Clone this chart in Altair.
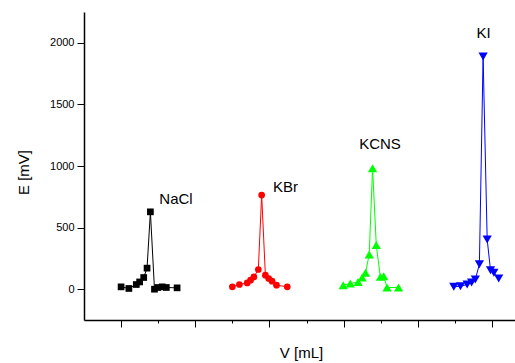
import altair as alt
import pandas as pd

# ---- data ----
nacl_x = [1.00, 1.21, 1.41, 1.50, 1.61, 1.70, 1.79, 1.90, 1.99, 2.11, 2.22, 2.51]
nacl_y = [19, 6, 38, 59, 95, 171, 628, 0, 14, 19, 14, 11]

kbr_x = [4.00, 4.19, 4.40, 4.49, 4.58, 4.70, 4.79, 4.89, 4.98, 5.07, 5.19, 5.48]
kbr_y = [19, 38, 51, 73, 100, 160, 764, 114, 87, 65, 33, 19]

kcns_x = [6.99, 7.18, 7.39, 7.50, 7.59, 7.69, 7.78, 7.88, 7.99, 8.08, 8.17, 8.48]
kcns_y = [33, 46, 59, 95, 133, 282, 981, 358, 100, 106, 14, 14]

ki_x = [9.97, 10.15, 10.33, 10.45, 10.55, 10.66, 10.76, 10.87, 10.96, 11.05, 11.18]
ki_y = [19, 24, 38, 54, 79, 203, 1889, 404, 154, 133, 87]

series_names = ["NaCl", "KBr", "KCNS", "KI"]
series_colors = ["#000000", "#ff0000", "#00ff00", "#0000ff"]
series_shapes = ["square", "circle", "triangle-up", "triangle-down"]

label_x = [2.48, 5.43, 7.98, 10.77]
label_y = [730, 830, 1178, 2078]

y_ticks = [0, 250, 500, 750, 1000, 1250, 1500, 1750, 2000]
x_ticks = [1, 2, 3, 4, 5, 6, 7, 8, 9, 10, 11]

# ---- build table ----
rows = []
for name, xs, ys in zip(series_names,
                        [nacl_x, kbr_x, kcns_x, ki_x],
                        [nacl_y, kbr_y, kcns_y, ki_y]):
    for i, (xv, yv) in enumerate(zip(xs, ys)):
        rows.append({"series": name, "V": xv, "E": yv, "idx": i})
df = pd.DataFrame(rows)
labels_df = pd.DataFrame({"series": series_names, "V": label_x, "E": label_y})

FONT = "Liberation Sans"

xscale = alt.Scale(domain=[0, 11.62], nice=False, zero=False)
yscale = alt.Scale(domain=[-250, 2250], nice=False, zero=False)
cscale = alt.Scale(domain=series_names, range=series_colors)
sscale = alt.Scale(domain=series_names, range=series_shapes)

x_enc = alt.X("V:Q", scale=xscale, axis=alt.Axis(
    values=x_ticks, labels=False, grid=False,
    domainColor="black", domainWidth=1.5,
    tickColor="black", tickWidth=1,
    tickSize={"condition": {"test": "datum.value % 2 === 1", "value": 7}, "value": 3},
    title="V [mL]", titleFont=FONT, titleFontSize=15, titleFontWeight="normal",
    titleColor="black", titleX=217, titleY=32, titleBaseline="middle",
    titleAlign="center", titleAnchor="start"))
y_enc = alt.Y("E:Q", scale=yscale, axis=alt.Axis(
    values=y_ticks, grid=False, format="d",
    labelExpr="datum.value % 500 === 0 ? datum.label : ''",
    labelFont=FONT, labelFontSize=11, labelColor="black", labelPadding=3,
    domainColor="black", domainWidth=1.5,
    tickColor="black", tickWidth=1,
    tickSize={"condition": {"test": "datum.value % 500 === 0", "value": 7}, "value": 3},
    title="E [mV]", titleFont=FONT, titleFontSize=15, titleFontWeight="normal",
    titleColor="black", titleX=-61, titleY=160, titleAngle=-90,
    titleBaseline="middle", titleAlign="center", titleAnchor="start"))

base = alt.Chart(df)

lines = base.mark_line(strokeWidth=1, clip=False).encode(
    x=x_enc, y=y_enc,
    color=alt.Color("series:N", scale=cscale, legend=None),
    detail="series:N",
    order="idx:Q",
)

def point_layer(names, size):
    return base.transform_filter(
        alt.FieldOneOfPredicate(field="series", oneOf=names)
    ).mark_point(filled=True, opacity=1, size=size).encode(
        x=alt.X("V:Q", scale=xscale),
        y=alt.Y("E:Q", scale=yscale),
        color=alt.Color("series:N", scale=cscale, legend=None),
        shape=alt.Shape("series:N", scale=sscale, legend=None),
    )

points_small = point_layer(series_names[:2], 45)
points_tri = point_layer(series_names[2:], 85)

texts = alt.Chart(labels_df).mark_text(
    font=FONT, fontSize=15, color="black", align="center", baseline="middle"
).encode(
    x=alt.X("V:Q", scale=xscale),
    y=alt.Y("E:Q", scale=yscale),
    text="series:N",
)

chart = alt.layer(lines, points_small, points_tri, texts).properties(
    width=431, height=308,
    autosize=alt.AutoSizeParams(type="none"),
    padding={"left": 84, "top": 12, "right": 0, "bottom": 43},
    background="white",
).configure_view(stroke=None)

chart.save("out.html", embed_options={"renderer": "svg", "actions": False})
